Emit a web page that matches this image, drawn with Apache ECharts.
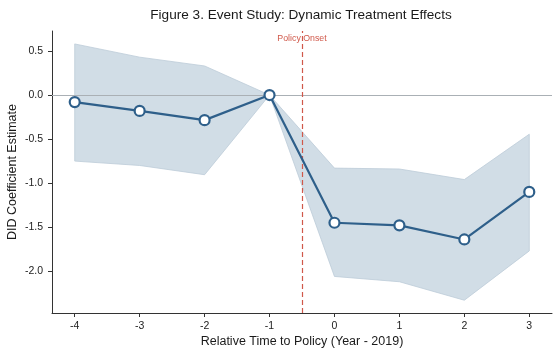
<!DOCTYPE html>
<html><head><meta charset="utf-8">
<script src="https://cdn.jsdelivr.net/npm/echarts@6/dist/echarts.min.js"></script>
<style>html,body{margin:0;padding:0;background:#fff}#c{width:560px;height:357px}</style>
</head><body><div id="c"></div>
<script>
var relTime = [-4, -3, -2, -1, 0, 1, 2, 3];
var coef    = [-0.08, -0.18, -0.285, 0.0, -1.45, -1.48, -1.64, -1.10];
var ciUpper = [0.58, 0.43, 0.33, 0.0, -0.83, -0.84, -0.96, -0.445];
var ciLower = [-0.75, -0.80, -0.905, 0.0, -2.06, -2.12, -2.33, -1.77];
var xTicks = [-4, -3, -2, -1, 0, 1, 2, 3];
var yTicks = [-2.0, -1.5, -1.0, -0.5, 0.0, 0.5];
var policyX = -0.5;

var F = 'Liberation Sans, Arial, sans-serif';
var coefData = relTime.map(function(x,i){return [x, coef[i]];});
var bandRows = relTime.map(function(x,i){return [x, ciLower[i], ciUpper[i]];});

var chart = echarts.init(document.getElementById('c'), null, {renderer:'canvas'});
chart.setOption({
  animation:false,
  backgroundColor:'#fff',
  graphic:[{type:'text', x:301, y:15, silent:true,
    style:{text:'Figure 3. Event Study: Dynamic Treatment Effects', fontFamily:F, fontSize:13.6,
      fill:'#1a1a1a', align:'center', verticalAlign:'middle'}}],
  grid:{left:52, right:8, top:31, bottom:44, outerBoundsMode:'none', containLabel:false},
  xAxis:{type:'value', min:-4.35, max:3.35,
    name:'Relative Time to Policy (Year - 2019)', nameLocation:'middle', nameGap:22, nameMoveOverlap:false,
    nameTextStyle:{fontFamily:F, fontSize:12.5, color:'#1a1a1a'},
    axisLine:{show:true, onZero:false, lineStyle:{color:'#333', width:1}},
    axisTick:{show:true, length:4, lineStyle:{color:'#333'}, customValues:xTicks},
    axisLabel:{customValues:xTicks, fontFamily:F, fontSize:10.5, color:'#222', margin:8,
      formatter:function(v){return String(v);}},
    splitLine:{show:false}},
  yAxis:{type:'value', min:-2.475, max:0.727,
    name:'DID Coefficient Estimate', nameLocation:'middle', nameGap:33, nameRotate:90, nameMoveOverlap:false,
    nameTextStyle:{fontFamily:F, fontSize:12.5, color:'#1a1a1a'},
    axisLine:{show:true, onZero:false, lineStyle:{color:'#333', width:1}},
    axisTick:{show:true, length:4, lineStyle:{color:'#333'}, customValues:yTicks},
    axisLabel:{customValues:yTicks, fontFamily:F, fontSize:10.5, color:'#222', margin:9,
      formatter:function(v){return v.toFixed(1);}},
    splitLine:{show:false}},
  series:[
    {type:'custom', data:[0], silent:true, z:1,
      renderItem:function(params, api){
        var pts = [];
        for (var i=0;i<bandRows.length;i++) pts.push(api.coord([bandRows[i][0], bandRows[i][2]]));
        for (var j=bandRows.length-1;j>=0;j--) pts.push(api.coord([bandRows[j][0], bandRows[j][1]]));
        return {type:'polygon', shape:{points:pts},
          style:{fill:'#d1dde6', stroke:'#bccbd8', lineWidth:0.8}};
      },
      markLine:{silent:true, symbol:'none', animation:false,
        data:[
          {yAxis:0, lineStyle:{color:'#aab0b5', width:1, type:'solid'}, label:{show:false}},
          {xAxis:policyX, lineStyle:{color:'#d0584a', width:1.2, type:[5,3]}, label:{show:false}}
        ]},
      markPoint:{silent:true, symbol:'circle', symbolSize:0,
        data:[{coord:[policyX, 0.645], label:{show:true, position:'inside', formatter:'Policy Onset',
          fontFamily:F, fontSize:8.8, color:'#d0584a'}}]}
    },
    {type:'line', data:coefData, symbol:'circle', symbolSize:10, z:5,
      lineStyle:{color:'#2e5f8a', width:2.2},
      itemStyle:{color:'#ffffff', borderColor:'#2e5f8a', borderWidth:2.2}}
  ]
});
</script></body></html>
